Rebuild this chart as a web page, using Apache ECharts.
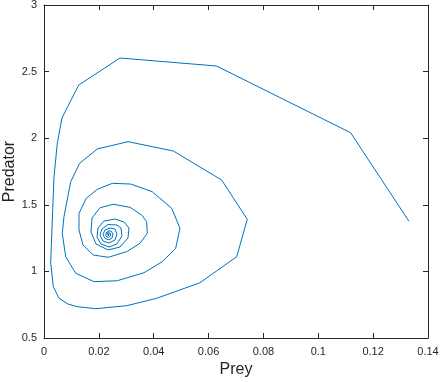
<!DOCTYPE html>
<html>
<head>
<meta charset="utf-8">
<script src="https://cdn.jsdelivr.net/npm/echarts@6/dist/echarts.min.js"></script>
<style>
  html, body { margin: 0; padding: 0; background: #fff; }
  #chart { width: 442px; height: 382px; }
</style>
</head>
<body>
<div id="chart"></div>
<script>
// trajectoire proie / prédateur
const prey = [
  0.1330, 0.1118, 0.0629, 0.0277, 0.01265, 0.00656, 0.00485, 0.00365, 0.00303, 0.00244,
  0.00339, 0.00547, 0.00875, 0.01214, 0.01885, 0.03015, 0.0411, 0.05687, 0.07025, 0.07411,
  0.06478, 0.04714, 0.03062, 0.01943, 0.01301, 0.00973, 0.00729, 0.00667, 0.00791, 0.01156,
  0.01823, 0.02672, 0.03646, 0.04313, 0.04801, 0.04958, 0.04655, 0.03948, 0.03161, 0.0249,
  0.01943, 0.01542, 0.01276, 0.01276, 0.01422, 0.01797, 0.02344, 0.03015, 0.035, 0.03766,
  0.03744, 0.03562, 0.03135, 0.02526, 0.02042, 0.0175, 0.01713, 0.01896, 0.02333, 0.02771,
  0.03062, 0.03099, 0.02916, 0.02588, 0.02187, 0.01969, 0.01932, 0.02078, 0.0237, 0.02661,
  0.02844, 0.02807, 0.02661, 0.02333, 0.02114, 0.02042, 0.02151, 0.0237, 0.02588, 0.02661,
  0.02588, 0.02406, 0.02224, 0.02151, 0.02224, 0.0237, 0.02479, 0.02515, 0.02443, 0.02333,
  0.0226, 0.0226, 0.02351, 0.02424, 0.02424, 0.0237, 0.02315, 0.02297, 0.02344, 0.0239,
  0.0237, 0.02333, 0.02351, 0.02345
];
const predator = [
  1.378, 2.041, 2.542, 2.602, 2.399, 2.152, 1.962, 1.711, 1.386, 1.063,
  0.885, 0.798, 0.755, 0.735, 0.720, 0.7425, 0.798, 0.915, 1.110, 1.391,
  1.686, 1.904, 1.974, 1.919, 1.812, 1.673, 1.411, 1.286, 1.110, 0.986,
  0.923, 0.930, 0.990, 1.073, 1.173, 1.324, 1.474, 1.598, 1.656, 1.661,
  1.616, 1.549, 1.436, 1.311, 1.198, 1.123, 1.106, 1.148, 1.211, 1.286,
  1.373, 1.423, 1.481, 1.504, 1.478, 1.401, 1.296, 1.206, 1.161, 1.183,
  1.251, 1.326, 1.371, 1.393, 1.378, 1.326, 1.258, 1.206, 1.183, 1.206,
  1.266, 1.326, 1.348, 1.352, 1.318, 1.273, 1.228, 1.213, 1.236, 1.281,
  1.318, 1.326, 1.311, 1.277, 1.2475, 1.236, 1.251, 1.281, 1.303, 1.303,
  1.288, 1.266, 1.2545, 1.266, 1.285, 1.296, 1.292, 1.277, 1.266, 1.273,
  1.285, 1.281, 1.277, 1.279
];
const xTicks = [0, 0.02, 0.04, 0.06, 0.08, 0.1, 0.12, 0.14];
const yTicks = [0.5, 1, 1.5, 2, 2.5, 3];

const points = prey.map((p, i) => [p, predator[i]]);

const textColor = "#262626";
const fontFamily = "Liberation Sans, Arial, sans-serif";

const baseAxis = {
  axisLine: { show: true, onZero: false, lineStyle: { color: textColor, width: 1 } },
  axisTick: { show: true, inside: true, length: 5, lineStyle: { color: textColor } },
  splitLine: { show: false },
};

const chart = echarts.init(document.getElementById("chart"), null, { renderer: "canvas" });
chart.setOption({
  animation: false,
  backgroundColor: "#ffffff",
  grid: { left: 44, right: 14, top: 5, bottom: 44, containLabel: false, outerBoundsMode: "none" },
  xAxis: [
    Object.assign({}, baseAxis, {
      type: "value",
      min: xTicks[0],
      max: xTicks[xTicks.length - 1],
      interval: 0.02,
      name: "Prey",
      nameLocation: "middle",
      nameGap: 23,
      nameTextStyle: { color: textColor, fontSize: 16, fontFamily },
      axisLabel: {
        color: textColor, fontSize: 11, fontFamily, margin: 8,
        formatter: (v) => String(+v.toFixed(2)),
      },
    }),
    Object.assign({}, baseAxis, {
      type: "value", position: "top",
      min: xTicks[0], max: xTicks[xTicks.length - 1], interval: 0.02,
      axisLabel: { show: false },
    }),
  ],
  yAxis: [
    Object.assign({}, baseAxis, {
      type: "value",
      min: yTicks[0],
      max: yTicks[yTicks.length - 1],
      interval: 0.5,
      name: "Predator",
      nameLocation: "middle",
      nameGap: 26,
      nameMoveOverlap: false,
      nameTextStyle: { color: textColor, fontSize: 16, fontFamily },
      axisLabel: { color: textColor, fontSize: 11, fontFamily, margin: 7 },
    }),
    Object.assign({}, baseAxis, {
      type: "value", position: "right",
      min: yTicks[0], max: yTicks[yTicks.length - 1], interval: 0.5,
      axisLabel: { show: false },
    }),
  ],
  series: [
    {
      type: "line",
      data: points,
      showSymbol: false,
      smooth: false,
      lineStyle: { color: "#0072BD", width: 1 },
    },
  ],
});
</script>
</body>
</html>
